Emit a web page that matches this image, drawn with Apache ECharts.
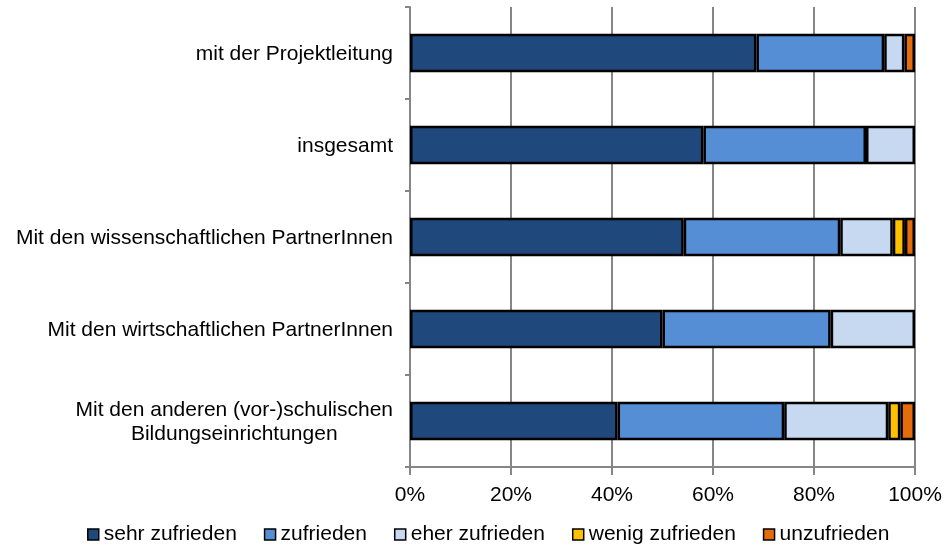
<!DOCTYPE html>
<html>
<head>
<meta charset="utf-8">
<script src="https://cdn.jsdelivr.net/npm/echarts@6/dist/echarts.min.js"></script>
<style>
  html, body { margin: 0; padding: 0; background: #fff; }
  #chart { width: 946px; height: 546px; }
</style>
</head>
<body>
<div id="chart"></div>
<script>
// Kategorien von oben nach unten
var categories = [
    'mit der Projektleitung',
    'insgesamt',
    'Mit den wissenschaftlichen PartnerInnen',
    'Mit den wirtschaftlichen PartnerInnen',
    'Mit den anderen (vor-)schulischen\nBildungseinrichtungen'
];
var xTicks = ['0%', '20%', '40%', '60%', '80%', '100%'];

// Anteile in Prozent
var sehrZufrieden   = [68.6, 58.1, 54.2, 50.0, 41.1];
var zufrieden       = [25.3, 32.2, 31.0, 33.3, 33.0];
var eherZufrieden   = [4.0, 9.7, 10.4, 16.7, 20.6];
var wenigZufrieden  = [0, 0, 2.4, 0, 2.4];
var unzufrieden     = [2.1, 0, 2.0, 0, 2.9];

var seriesNames = ['sehr zufrieden', 'zufrieden', 'eher zufrieden', 'wenig zufrieden', 'unzufrieden'];
var seriesData = [sehrZufrieden, zufrieden, eherZufrieden, wenigZufrieden, unzufrieden];
var colors = ['#1f497d', '#558ed5', '#c6d9f1', '#ffc000', '#e46c0a'];

var font = 'Liberation Sans, Arial, sans-serif';
var myChart = echarts.init(document.getElementById('chart'));

var series = seriesNames.map(function (name, i) {
    return {
        name: name,
        type: 'bar',
        stack: 'total',
        barWidth: '42%',
        itemStyle: {
            color: colors[i],
            borderColor: '#000',
            borderWidth: 2.5
        },
        emphasis: { disabled: true },
        data: seriesData[i].map(function (v) {
            // leere Segmente nicht zeichnen
            return v > 0 ? v : '-';
        })
    };
});

var option = {
    backgroundColor: '#fff',
    animation: false,
    color: colors,
    textStyle: { fontFamily: font },
    grid: { left: 410, right: 31, top: 7, bottom: 79 },
    legend: {
        top: 519,
        left: 82,
        icon: 'rect',
        itemWidth: 11,
        itemHeight: 11,
        itemGap: 27,
        itemStyle: { borderColor: '#000', borderWidth: 1.5 },
        textStyle: { fontSize: 21, color: '#000', fontFamily: font },
        data: seriesNames
    },
    xAxis: {
        type: 'value',
        min: 0,
        max: 100,
        interval: 20,
        axisLine: { show: true, lineStyle: { color: '#868686', width: 2 } },
        axisTick: { show: true, length: 8, lineStyle: { color: '#868686', width: 2 } },
        splitLine: { show: true, lineStyle: { color: '#868686', width: 2 } },
        axisLabel: {
            color: '#000',
            fontSize: 21,
            margin: 18,
            fontFamily: font,
            formatter: function (v) { return xTicks[v / 20]; }
        }
    },
    yAxis: {
        type: 'category',
        inverse: true,
        data: categories,
        axisLine: { show: true, lineStyle: { color: '#868686', width: 2 } },
        axisTick: { show: true, length: 5, lineStyle: { color: '#868686', width: 2 } },
        axisLabel: {
            color: '#000',
            fontSize: 21,
            margin: 17,
            fontFamily: font,
            formatter: function (v) {
                return v.split('\n').map(function (s) { return '{c|' + s + '}'; }).join('\n');
            },
            rich: {
                c: { align: 'center', fontSize: 21, color: '#000', fontFamily: font, lineHeight: 24, padding: [3, 0, 0, 0] }
            }
        }
    },
    series: series
};

myChart.setOption(option);
</script>
</body>
</html>
